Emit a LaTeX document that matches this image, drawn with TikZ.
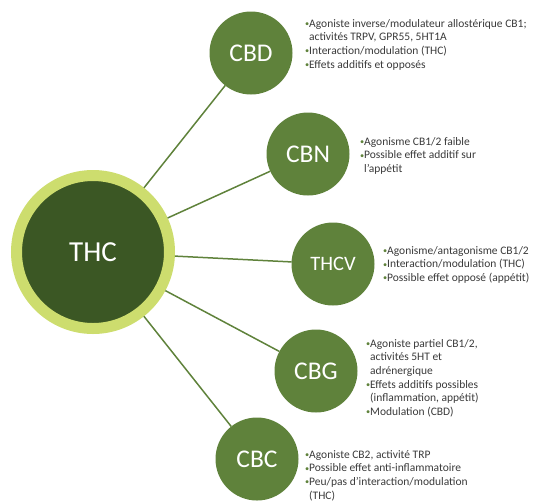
\documentclass[tikz,border=0pt]{standalone}
\usepackage{fontspec}
\setmainfont{Carlito}
\definecolor{ringgreen}{HTML}{CDDD6E}
\definecolor{darkgreen}{HTML}{3B5724}
\definecolor{midgreen}{HTML}{5F823B}
\definecolor{txtgray}{HTML}{3A3A3A}
\newcommand{\bl}{\makebox[4pt][l]{\textcolor{midgreen}{\raisebox{0.6pt}{\scalebox{0.72}{\textbullet}}}}}
\newcommand{\ind}{\hspace*{4pt}}
\newcommand{\fl}{\rule{0pt}{8.5pt}}
\begin{document}
\begin{tikzpicture}[x=1pt,y=-1pt,
  hub/.style={circle, fill=darkgreen, draw=ringgreen, line width=11pt, minimum size=153pt, inner sep=0pt, outer sep=5.5pt, text=white, font=\fontsize{29}{32}\selectfont},
  sat/.style={circle, fill=midgreen, minimum size=83pt, inner sep=0pt, outer sep=0pt, text=white, font=\fontsize{25.5}{28}\selectfont},
  link/.style={draw=midgreen, line width=1.5pt},
  info/.style={anchor=north west, align=left, inner sep=0pt, text=txtgray, font=\fontsize{11.5}{13.6}\selectfont}]
\useasboundingbox (0,0) rectangle (534,501);
\node[hub] (thc) at (93,252) {THC};
\node[sat] (cbd) at (251,53) {CBD};
\node[sat] (cbn) at (308,154) {CBN};
\node[sat, font=\fontsize{20.5}{23}\selectfont] (thcv) at (333,264) {THCV};
\node[sat] (cbg) at (316,371) {CBG};
\node[sat] (cbc) at (257,459) {CBC};
\draw[link] (thc) -- (cbd);
\draw[link] (thc) -- (cbn);
\draw[link] (thc) -- (thcv);
\draw[link] (thc) -- (cbg);
\draw[link] (thc) -- (cbc);
\node[info] (tcbd) at (305,18.5) {\fl\bl Agoniste inverse/modulateur allostérique CB1;\\ \ind activités TRPV, GPR55, 5HT1A\\ \bl Interaction/modulation (THC)\\ \bl Effets additifs et opposés};
\node[info] (tcbn) at (360,136.5) {\fl\bl Agonisme CB1/2 faible\\ \bl Possible effet additif sur\\ \ind l’appétit};
\node[info] (tthcv) at (383,245.5) {\fl\bl Agonisme/antagonisme CB1/2\\ \bl Interaction/modulation (THC)\\ \bl Possible effet opposé (appétit)};
\node[info] (tcbg) at (366,338.5) {\fl\bl Agoniste partiel CB1/2,\\ \ind activités 5HT et\\ \ind adrénergique\\ \bl Effets additifs possibles\\ \ind (inflammation, appétit)\\ \bl Modulation (CBD)};
\node[info] (tcbc) at (305,449.5) {\fl\bl Agoniste CB2, activité TRP\\ \bl Possible effet anti-inflammatoire\\ \bl Peu/pas d’interaction/modulation\\ \ind (THC)};
\end{tikzpicture}
\end{document}
